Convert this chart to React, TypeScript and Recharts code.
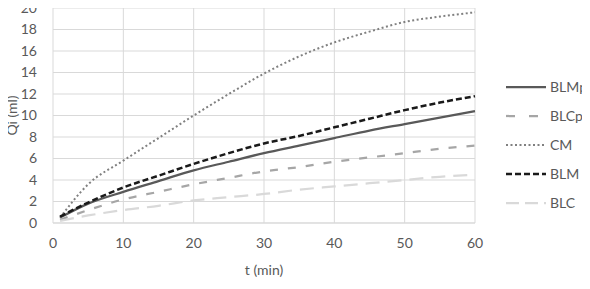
import React from 'react';
import {
  LineChart,
  Line,
  XAxis,
  YAxis,
  CartesianGrid,
} from 'recharts';

// time points (min)
const times = [1, 5, 10, 15, 20, 25, 30, 35, 40, 45, 50, 55, 60];

// cumulative volume Qi (ml) per series
const blmp = [0.5, 1.8, 2.9, 3.9, 4.9, 5.7, 6.5, 7.2, 7.9, 8.6, 9.2, 9.8, 10.4];
const blcp = [0.3, 1.2, 2.2, 2.9, 3.6, 4.2, 4.8, 5.2, 5.7, 6.1, 6.5, 6.9, 7.2];
const cm = [0.5, 3.6, 5.8, 7.9, 10.0, 12.0, 13.9, 15.5, 16.8, 17.8, 18.7, 19.2, 19.6];
const blm = [0.6, 1.9, 3.3, 4.4, 5.5, 6.5, 7.4, 8.1, 8.9, 9.7, 10.5, 11.2, 11.8];
const blc = [0.2, 0.7, 1.2, 1.6, 2.1, 2.4, 2.7, 3.1, 3.4, 3.7, 4.0, 4.3, 4.5];

const xTicks = [0, 10, 20, 30, 40, 50, 60];
const yTicks = [0, 2, 4, 6, 8, 10, 12, 14, 16, 18, 20];

const series = [
  { key: 'BLMp', color: '#595959', width: 2.25, dash: undefined, legendDash: undefined },
  { key: 'BLCp', color: '#a6a6a6', width: 2.25, dash: '8 10', legendDash: '9 14' },
  { key: 'CM', color: '#808080', width: 2, dash: '2 2.5', legendDash: '2 2.5' },
  { key: 'BLM', color: '#1a1a1a', width: 2.5, dash: '6 3', legendDash: '6 3' },
  { key: 'BLC', color: '#d9d9d9', width: 2.25, dash: '14 8', legendDash: '13 6' },
];

const chartData = times.map((t, i) => ({
  t,
  BLMp: blmp[i],
  BLCp: blcp[i],
  CM: cm[i],
  BLM: blm[i],
  BLC: blc[i],
}));

const font = 'Lato, "Open Sans", sans-serif';

function SideLegend() {
  return (
    <div
      style={{
        position: 'absolute',
        left: 506,
        top: 72,
        width: 84,
        whiteSpace: 'nowrap',
        fontFamily: font,
        fontSize: 14,
        color: '#595959',
      }}
    >
      {series.map((s) => (
        <div key={s.key} style={{ display: 'flex', alignItems: 'center', height: 29 }}>
          <svg width={41} height={10} style={{ marginRight: 3, flexShrink: 0 }}>
            <line
              x1={0}
              y1={5}
              x2={40}
              y2={5}
              stroke={s.color}
              strokeWidth={s.width}
              strokeDasharray={s.legendDash}
            />
          </svg>
          <span>{s.key}</span>
        </div>
      ))}
    </div>
  );
}

export default function App() {
  return (
    <div style={{ margin: -8, width: 590, height: 289, background: '#fff', position: 'relative' }}>
      <LineChart
        width={590}
        height={289}
        data={chartData}
        margin={{ top: 8, right: 115, left: 0, bottom: 12 }}
      >
        <CartesianGrid stroke="#d9d9d9" strokeWidth={1} />
        <XAxis
          dataKey="t"
          type="number"
          domain={[0, 60]}
          ticks={xTicks}
          height={54}
          tickLine={false}
          axisLine={{ stroke: '#d9d9d9' }}
          tickMargin={9}
          tick={{ fontSize: 14, fill: '#595959', fontFamily: font }}
          label={{
            value: 't (min)',
            position: 'insideBottom',
            offset: 2,
            fontSize: 14,
            fill: '#595959',
            fontFamily: font,
          }}
        />
        <YAxis
          type="number"
          domain={[0, 20]}
          ticks={yTicks}
          width={53}
          tickLine={false}
          axisLine={false}
          tickMargin={10}
          interval={0}
          tick={{ fontSize: 14, fill: '#595959', fontFamily: font }}
          label={{
            value: 'Qi (ml)',
            angle: -90,
            position: 'insideLeft',
            offset: 12,
            fontSize: 14,
            fill: '#595959',
            fontFamily: font,
            style: { textAnchor: 'middle' },
          }}
        />
        {series.map((s) => (
          <Line
            key={s.key}
            type="monotone"
            dataKey={s.key}
            stroke={s.color}
            strokeWidth={s.width}
            strokeDasharray={s.dash}
            dot={false}
            isAnimationActive={false}
          />
        ))}
      </LineChart>
      <SideLegend />
    </div>
  );
}
